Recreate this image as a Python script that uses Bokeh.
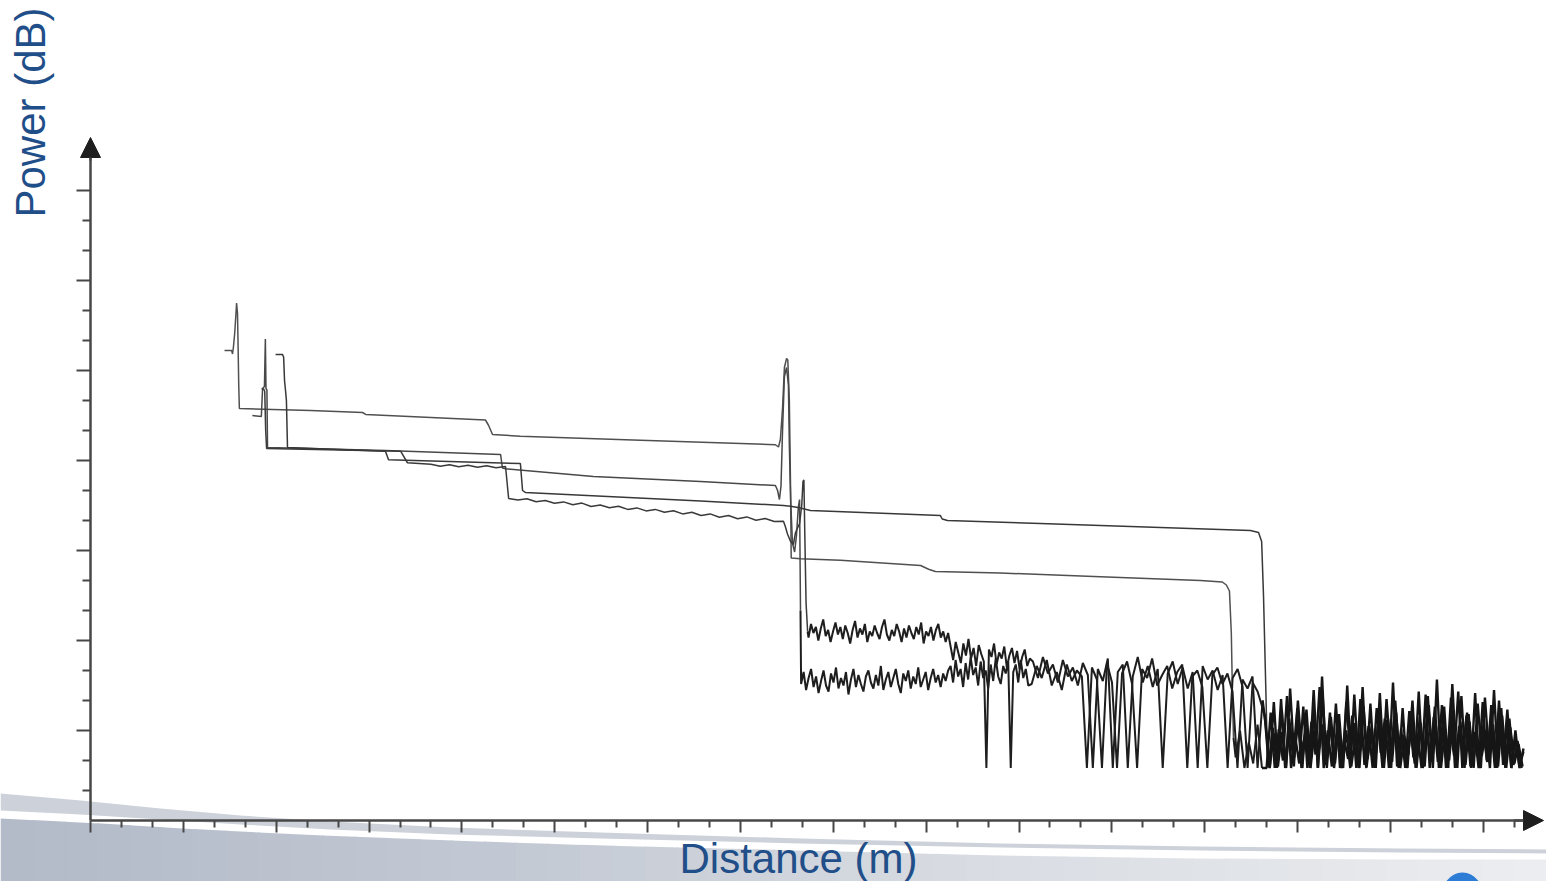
import math
import numpy as np
from bokeh.plotting import figure
from bokeh.models import (Range1d, LinearAxis, FixedTicker, CustomJSTickFormatter,
                          Arrow, NormalHead, Label)
from bokeh.embed import file_html
from bokeh.resources import INLINE

# ---------------- data: OTDR traces (distance in m, power in dB) ----------------
# Trace 1: highest launch, big reflective event, ends ~3690 m
t1_dist = [433, 456, 459, 462, 466, 470, 472, 475, 477, 479, 481, 711, 879, 889, 1276, 1286,
           1299, 1389, 1777, 2213, 2223, 2229, 2236, 2242, 2249, 2253, 2258, 2262, 2264, 2294,
           2423, 2682, 2708, 2730, 2940, 3263, 3586, 3657, 3670, 3680, 3686, 3690, 3693]
t1_pow = [31.33, 31.33, 31.1, 31.6, 32.5, 33.8, 34.5, 33.8, 31.5, 29.0, 27.47, 27.33, 27.2,
          27.07, 26.7, 26.35, 25.73, 25.62, 25.35, 25.05, 24.9, 25.4, 27.5, 30.2, 30.8, 30.7,
          28.0, 22.0, 17.5, 17.45, 17.35, 17.0, 16.75, 16.6, 16.5, 16.25, 16.0, 15.9, 15.7,
          15.3, 12.5, 8.0, 5.5]
t1_tail = [4.2, 6.0, 3.5, 5.2, 3.8, 6.4, 3.5]
t1_floor = [3.5, 7.2, 3.5, 6.1, 4.0, 8.3, 3.5, 5.6, 3.8, 7.6, 3.5, 6.6, 4.4, 8.9, 3.5, 6.0,
            3.6, 7.8, 3.5, 5.4, 4.1, 7.0, 3.5, 8.1, 3.7, 6.3, 3.5, 7.5, 4.5, 6.8, 3.5, 9.2,
            3.6, 6.1, 3.5, 7.3, 4.2, 5.8, 3.5, 8.4, 3.5, 6.9, 3.9, 7.7, 3.5, 6.2, 4.3, 8.6,
            3.5, 7.0, 3.6, 5.9, 3.5, 7.9, 4.0, 6.5, 3.5, 8.0, 3.7, 6.4, 3.5, 5.5, 3.6, 4.6]

# Trace 2: fibre break at ~2290 m, then lower noise floor
t2_dist = [523, 552, 556, 562, 565, 567, 570, 572, 953, 1325, 1331, 1341, 1625, 1971, 2213,
           2220, 2226, 2231, 2236, 2242, 2249, 2255, 2258, 2262, 2268, 2275, 2281, 2287, 2291,
           2294]
t2_pow = [27.0, 26.93, 28.8, 28.93, 32.1, 28.8, 28.7, 24.87, 24.67, 24.4, 23.5, 23.45, 22.93,
          22.6, 22.33, 22.0, 21.4, 22.3, 26.0, 29.6, 30.2, 29.0, 25.0, 21.5, 18.5, 17.9, 19.0,
          20.9, 21.4, 14.0]
t2_noise_a = [9.1, 9.9, 8.7, 9.5, 10.1, 8.9, 9.6, 8.5, 9.3, 10.0, 9.0, 8.6, 9.8, 9.2, 10.2,
              8.8, 9.5, 9.0, 9.9, 8.4, 9.4, 10.1, 8.9, 9.7, 9.1, 8.6, 9.6, 10.0, 9.2, 8.8,
              9.7, 9.0, 10.3, 8.7, 9.4, 9.9, 8.9, 9.5, 10.1, 9.1, 8.5, 9.8, 9.3, 10.0, 8.8,
              9.6, 9.1, 10.2, 8.9, 9.4, 9.9, 8.7, 9.5, 10.1, 9.2, 9.7, 8.9, 9.8, 9.3, 10.0]
t2_noise_b = [10.3, 9.2, 10.7, 9.6, 10.1, 8.9, 10.5, 9.4, 10.9, 9.7, 10.2, 9.0, 10.6, 9.5,
              10.0, 8.8, 10.4, 9.3, 10.8, 9.6, 9.1, 10.3, 9.8, 10.6, 3.5, 9.9, 10.4, 9.2,
              10.7, 9.5, 10.1, 9.0]
t2_noise_c = [9.1, 10.3, 9.5, 10.7, 9.0, 9.9, 8.7, 10.4, 9.3, 10.0, 9.6, 3.5, 10.2, 9.4, 3.5,
              10.5, 9.2, 3.5, 9.8, 10.6, 9.1, 3.5, 10.1, 9.5, 10.8, 9.0, 9.7, 10.3, 8.8, 9.9,
              10.4, 3.5, 9.6, 10.0, 8.9, 3.5, 9.7, 10.2, 9.1, 9.8, 8.6, 3.5, 9.4, 8.8, 9.6,
              3.5, 8.0]
t2_floor = [6.4, 3.5, 7.9, 3.6, 5.9, 3.5, 8.8, 4.2, 6.7, 3.5, 7.4, 3.5, 6.0, 4.6, 8.2, 3.5,
            6.9, 3.8, 7.1, 3.5, 9.0, 3.6, 5.7, 3.5, 7.6, 4.1, 6.3, 3.5, 8.5, 3.5, 6.8, 3.9,
            7.2, 3.5, 5.6, 4.4, 8.0, 3.5, 6.5, 3.6, 7.7, 3.5, 9.4, 3.5, 6.1, 4.0, 7.3, 3.5,
            8.3, 3.7, 6.6, 3.5, 7.8, 4.3, 6.0, 3.5, 8.7, 3.6, 7.0, 3.5, 6.2, 3.8, 5.1, 3.6]

# Trace 3: longest fibre, ends ~3790 m
t3_dist = [598, 620, 624, 627, 630, 633, 636.5, 953, 963, 1389, 1396, 1405, 1971, 2239, 2262,
           2290, 2326, 2746, 2752, 2769, 3069, 3748, 3774, 3784, 3790, 3796, 3803]
t3_pow = [31.07, 31.07, 30.9, 29.3, 28.7, 28.0, 24.87, 24.62, 24.05, 23.8, 22.0, 21.87, 21.3,
          21.0, 20.95, 20.85, 20.67, 20.33, 20.1, 20.0, 19.8, 19.33, 19.2, 18.6, 15.0, 10.0,
          4.0]
t3_floor = [3.5, 5.8, 3.9, 7.4, 3.5, 6.5, 3.6, 8.0, 4.5, 6.2, 3.5, 7.3, 3.5, 9.6, 3.7, 6.4,
            4.1, 7.1, 3.5, 6.0, 3.5, 8.4, 4.0, 5.5, 3.5, 7.8, 3.6, 6.6, 3.5, 8.1, 4.4, 6.9,
            3.5, 7.5, 3.5, 6.1, 3.8, 8.6, 3.5, 5.9, 4.2, 7.6, 3.5, 6.7, 3.6, 8.2, 3.5, 6.3,
            4.6, 7.2, 3.5, 8.5, 3.5, 6.0, 3.9, 7.7, 3.5, 6.8, 4.1, 7.4, 3.5, 6.0, 3.5, 4.8]

# Trace 4: noisy trace, break at ~2310 m, then upper noise floor
t4_dist = [553, 560, 563, 566, 569, 1002, 1024, 1100, 1130, 1160, 1190, 1220, 1250, 1280,
           1310, 1341]
t4_pow = [28.8, 28.75, 28.6, 26.0, 24.8, 24.62, 23.85, 23.75, 23.62, 23.72, 23.58, 23.68,
          23.55, 23.65, 23.52, 23.6]
t4_wiggle = [21.47, 21.36, 21.45, 21.25, 21.33, 21.15, 21.24, 21.05, 21.16, 20.93, 21.03,
             20.85, 20.95, 20.74, 20.84, 20.64, 20.74, 20.55, 20.65, 20.44, 20.55, 20.33,
             20.44, 20.22, 20.33, 20.12, 20.24, 20.02, 20.13, 19.93, 19.95]
t4_event_dist = [2245, 2252, 2262, 2271, 2278, 2291, 2298, 2302, 2305, 2308, 2312, 2317]
t4_event_pow = [19.6, 19.1, 18.6, 18.4, 19.2, 19.8, 21.0, 22.6, 22.7, 19.0, 14.5, 12.6]
t4_noise_a = [12.2, 13.1, 12.5, 12.9, 12.0, 12.8, 13.4, 12.3, 12.7, 11.9, 12.6, 13.2, 12.4,
              12.9, 12.1, 13.0, 12.5, 11.8, 12.7, 13.3, 12.2, 12.8, 12.4, 13.1, 11.9, 12.6,
              12.3, 13.0, 12.5, 12.1, 12.9, 13.4, 12.4, 12.0, 12.7, 12.3, 13.1, 12.6, 11.9,
              12.8, 12.2, 13.0, 12.5, 12.1, 12.9, 12.4, 13.2, 11.8, 12.6, 12.3, 12.9, 12.0,
              12.7, 13.1, 12.2, 12.6, 11.9, 12.5]
t4_noise_b = [11.6, 10.7, 11.9, 11.2, 10.5, 11.8, 11.0, 12.1, 10.8, 11.5, 10.3, 11.7, 11.1,
              10.6, 3.5, 11.4, 10.9, 11.8, 10.4, 11.2, 10.8, 11.6, 10.2, 11.0, 11.5, 10.5,
              11.3, 10.1, 10.9, 11.4, 10.3, 10.8]
t4_noise_c = [10.6, 9.5, 10.9, 9.8, 10.4, 9.2, 10.7, 9.6, 10.2, 9.0, 10.5, 9.7, 3.5, 10.1,
              9.3, 10.8, 3.5, 9.9, 10.4, 3.5, 9.6, 10.9, 9.2, 10.3, 8.9, 10.1, 3.5, 9.8, 10.6,
              9.1, 10.2, 8.8, 9.9, 3.5, 10.3, 9.4, 10.0, 8.7, 9.7, 3.5, 9.5, 10.1, 8.9, 3.5,
              9.2, 8.6, 7.5]
t4_floor = [7.0, 3.6, 6.2, 3.5, 8.1, 3.5, 6.8, 4.3, 7.5, 3.5, 5.9, 3.7, 8.7, 3.5, 6.4, 4.0,
            7.2, 3.5, 6.0, 3.5, 7.9, 4.5, 6.5, 3.5, 8.9, 3.6, 6.1, 3.5, 7.4, 3.8, 6.7, 3.5,
            8.0, 4.2, 5.7, 3.5, 7.3, 3.5, 6.9, 3.6, 8.3, 3.9, 6.3, 3.5, 7.6, 3.5, 9.1, 4.1,
            6.6, 3.5, 7.1, 3.6, 5.8, 3.5, 8.2, 4.4, 6.4, 3.5, 7.5, 3.5, 6.8, 3.7, 5.3, 3.5]

# axis ticks (no tick labels in the original)
x_major = [0, 300, 600, 900, 1200, 1500, 1800, 2100, 2400, 2700, 3000, 3300, 3600, 3900,
           4200, 4500]
x_minor = [d for d in range(100, 4700, 100) if d % 300 != 0]
y_major = [6, 12, 18, 24, 30, 36, 42]
y_minor = [2, 4, 8, 10, 14, 16, 20, 22, 26, 28, 32, 34, 38, 40]


def samples(d0, d1, vals):
    return list(np.linspace(d0, d1, len(vals)))


# clean (launch / fibre) parts of each trace
clean = [
    (t1_dist, t1_pow, "#505050"),
    (t2_dist, t2_pow, "#484848"),
    (t3_dist, t3_pow, "#383838"),
    (t4_dist + samples(1351, 2239, t4_wiggle) + t4_event_dist,
     t4_pow + t4_wiggle + t4_event_pow, "#3a3a3a"),
]
# noise parts of each trace after the fibre end (start at the last clean point)
t1_nx = [t1_dist[-1]] + samples(3700, 3785, t1_tail)
t1_ny = [t1_pow[-1]] + t1_tail
t2_nx = ([t2_dist[-1]] + samples(2296, 2771, t2_noise_a) + samples(2779, 3030, t2_noise_b)
         + samples(3041, 3787, t2_noise_c))
t2_ny = [t2_pow[-1]] + t2_noise_a + t2_noise_b + t2_noise_c
t4_nx = ([t4_event_dist[-1]] + samples(2320, 2771, t4_noise_a)
         + samples(2779, 3035, t4_noise_b) + samples(3045, 3787, t4_noise_c))
t4_ny = [t4_event_pow[-1]] + t4_noise_a + t4_noise_b + t4_noise_c

noisy = [(t1_nx, t1_ny), (t2_nx, t2_ny), (t4_nx, t4_ny)]
# final noise floor (far end) of each trace, joined to the preceding point
floors = [
    ([t1_nx[-1]] + samples(3800, 4630, t1_floor), [t1_ny[-1]] + t1_floor),
    ([t2_nx[-1]] + samples(3797, 4627, t2_floor), [t2_ny[-1]] + t2_floor),
    ([t3_dist[-1]] + samples(3810, 4630, t3_floor), [t3_pow[-1]] + t3_floor),
    ([t4_nx[-1]] + samples(3794, 4624, t4_floor), [t4_ny[-1]] + t4_floor),
]

# ---------------- figure geometry ----------------
W, H = 1546, 881
PX_PER_M = 92.85 / 300.0   # px per metre
PX_PER_DB = 15.0           # px per dB
X0_SCREEN, Y0_SCREEN = 90.0, 820.0


def dx(px):
    return (px - X0_SCREEN) / PX_PER_M


def dy(py):
    return (Y0_SCREEN - py) / PX_PER_DB


p = figure(width=W, height=H, output_backend="svg", toolbar_location=None,
           x_range=Range1d(dx(0), dx(W)), y_range=Range1d(dy(H), dy(0)),
           x_axis_type=None, y_axis_type=None, min_border=0,
           outline_line_color=None, background_fill_color="white",
           border_fill_color="white")

# ---------------- decorative slide background (not data) ----------------
band_x = [0, 80, 160, 240, 330, 450, 600, 800, 1000, 1200, 1400, 1546]
band_top = [793, 800, 808, 815, 821, 827, 832, 838, 843, 846, 848, 849]
band_bot = [810, 814, 819, 824, 829, 834, 838, 843, 847, 850, 852, 853]
main_x = [0, 100, 200, 300, 450, 600, 800, 1000, 1200, 1400, 1546]
main_top = [818, 823, 829, 834, 840, 845, 850, 855, 858, 859, 859]
grad_x = [0, 500, 1000, 1546]
grad_rgb = [(179, 186, 200), (195, 201, 212), (218, 221, 227), (236, 238, 241)]

n_strips = 48
edges = np.linspace(0, 1546, n_strips + 1)
for i in range(n_strips):
    xa, xb = edges[i], edges[i + 1] + 1.5
    xm = 0.5 * (xa + xb)
    col = tuple(int(np.interp(xm, grad_x, [c[k] for c in grad_rgb])) for k in range(3))
    hexc = "#%02x%02x%02x" % col
    ya, yb = np.interp(xa, main_x, main_top), np.interp(xb, main_x, main_top)
    p.patch([dx(xa), dx(xb), dx(xb), dx(xa)], [dy(ya), dy(yb), dy(890), dy(890)],
            fill_color=hexc, line_color=None)

p.patch([dx(v) for v in band_x + band_x[::-1]],
        [dy(v) for v in band_top + band_bot[::-1]],
        fill_color="#cdd1d9", line_color=None)

p.ellipse(x=[dx(1462)], y=[dy(902)], width=46 / PX_PER_M, height=60 / PX_PER_DB,
          fill_color="#2d7cd6", line_color=None)

# ---------------- traces ----------------
for xs, ys, col in clean:
    p.line(xs, ys, line_color=col, line_width=1.5)
for xs, ys in noisy:
    p.line(xs, ys, line_color="#1e1e1e", line_width=2.0)
for xs, ys in floors:
    p.line(xs, ys, line_color="#161616", line_width=2.4)

# ---------------- axes with arrows ----------------
AX = "#474747"
blank = CustomJSTickFormatter(code="return ''")

xaxis = LinearAxis(fixed_location=0, bounds=(0, 4640),
                   ticker=FixedTicker(ticks=x_major, minor_ticks=x_minor),
                   formatter=blank, axis_line_color=AX, axis_line_width=2.5,
                   major_tick_line_color=AX, major_tick_line_width=2,
                   minor_tick_line_color=AX, minor_tick_line_width=2,
                   major_tick_in=0, major_tick_out=12, minor_tick_in=0, minor_tick_out=7)
yaxis = LinearAxis(fixed_location=0, bounds=(0, 44.5),
                   ticker=FixedTicker(ticks=y_major, minor_ticks=y_minor),
                   formatter=blank, axis_line_color=AX, axis_line_width=2.5,
                   major_tick_line_color=AX, major_tick_line_width=2,
                   minor_tick_line_color=AX, minor_tick_line_width=2,
                   major_tick_in=0, major_tick_out=14, minor_tick_in=0, minor_tick_out=8)
p.add_layout(xaxis, "below")
p.add_layout(yaxis, "left")

head_kw = dict(size=20, fill_color="#1e1e1e", line_color="#1e1e1e", line_width=1)
p.add_layout(Arrow(end=NormalHead(**head_kw), x_start=4600, y_start=0,
                   x_end=dx(1543), y_end=0, line_color=AX, line_width=2.5))
p.add_layout(Arrow(end=NormalHead(**head_kw), x_start=0, y_start=44.0,
                   x_end=0, y_end=dy(137), line_color=AX, line_width=2.5))

# ---------------- titles ----------------
TITLE = "#1f4e89"
p.add_layout(Label(x=dx(30), y=dy(217), text="Power (dB)", angle=math.pi / 2,
                   text_font="Liberation Sans", text_font_size="42px",
                   text_color=TITLE, text_align="left", text_baseline="alphabetic"))
p.add_layout(Label(x=dx(679), y=dy(858), text="Distance (m)",
                   text_font="Liberation Sans", text_font_size="42px",
                   text_color=TITLE, text_align="left", text_baseline="alphabetic"))

open("out.html", "w").write(file_html(p, INLINE))
